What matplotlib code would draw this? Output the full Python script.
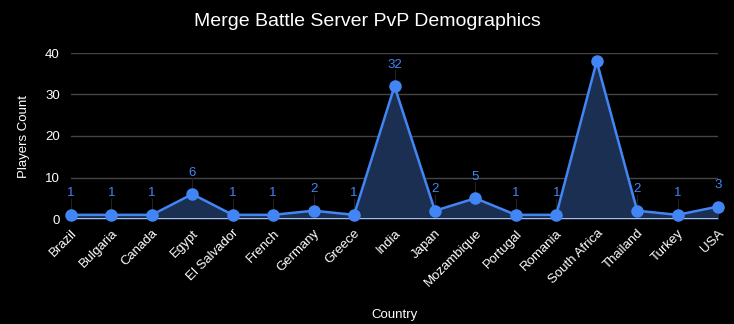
import matplotlib.pyplot as plt

countries = ['Brazil', 'Bulgaria', 'Canada', 'Egypt', 'El Salvador', 'French',
             'Germany', 'Greece', 'India', 'Japan', 'Mozambique', 'Portugal',
             'Romania', 'South Africa', 'Thailand', 'Turkey', 'USA']
players = [1, 1, 1, 6, 1, 1, 2, 1, 32, 2, 5, 1, 1, 38, 2, 1, 3]
yticks = [0, 10, 20, 30, 40]

blue = '#4285f4'
fill = '#1b2f52'

plt.rcParams['font.family'] = ['Liberation Sans', 'DejaVu Sans']

fig = plt.figure(figsize=(7.34, 3.24), dpi=100, facecolor='black')
ax = fig.add_axes([71 / 734, 1 - 219 / 324, (718 - 71) / 734, (219 - 53) / 324])
ax.set_facecolor('black')

x = list(range(len(countries)))
ax.fill_between(x, players, 0, color=fill, zorder=1)
ax.plot(x, players, color=blue, linewidth=1.8, marker='o', markersize=8, zorder=3, clip_on=False)
ax.axhline(0, color='#c9d7f0', linewidth=1.2, zorder=2)

ax.set_xlim(0, len(countries) - 1)
ax.set_ylim(0, 40)
ax.set_yticks(yticks)
ax.yaxis.grid(True, color='#444444', linewidth=1)
ax.set_axisbelow(True)

# value labels with small leader lines; skip the one that would fall off the top
for i, v in enumerate(players):
    ly = v + 5.2
    if ly > 40:
        continue
    ax.plot([i, i], [v + 1.2, ly - 1.3], color='#222222', linewidth=0.8, zorder=2)
    ax.text(i, ly, str(v), color=blue, fontsize=9.5, ha='center', va='center', zorder=4)

ax.set_xticks(x)
ax.set_xticklabels(countries, rotation=45, ha='right', rotation_mode='anchor')
ax.tick_params(colors='white', labelsize=9.5, length=0)
ax.tick_params(axis='x', pad=6)
ax.tick_params(axis='y', pad=8)
for s in ax.spines.values():
    s.set_visible(False)

ax.set_ylabel('Players Count', color='white', fontsize=9.5, labelpad=11)
ax.set_xlabel('Country', color='white', fontsize=9.5, labelpad=14)
fig.text(0.5, 1 - 22 / 324, 'Merge Battle Server PvP Demographics', color='white',
         fontsize=14, ha='center', va='center')

fig.savefig('out.png', dpi=100, facecolor='black')
